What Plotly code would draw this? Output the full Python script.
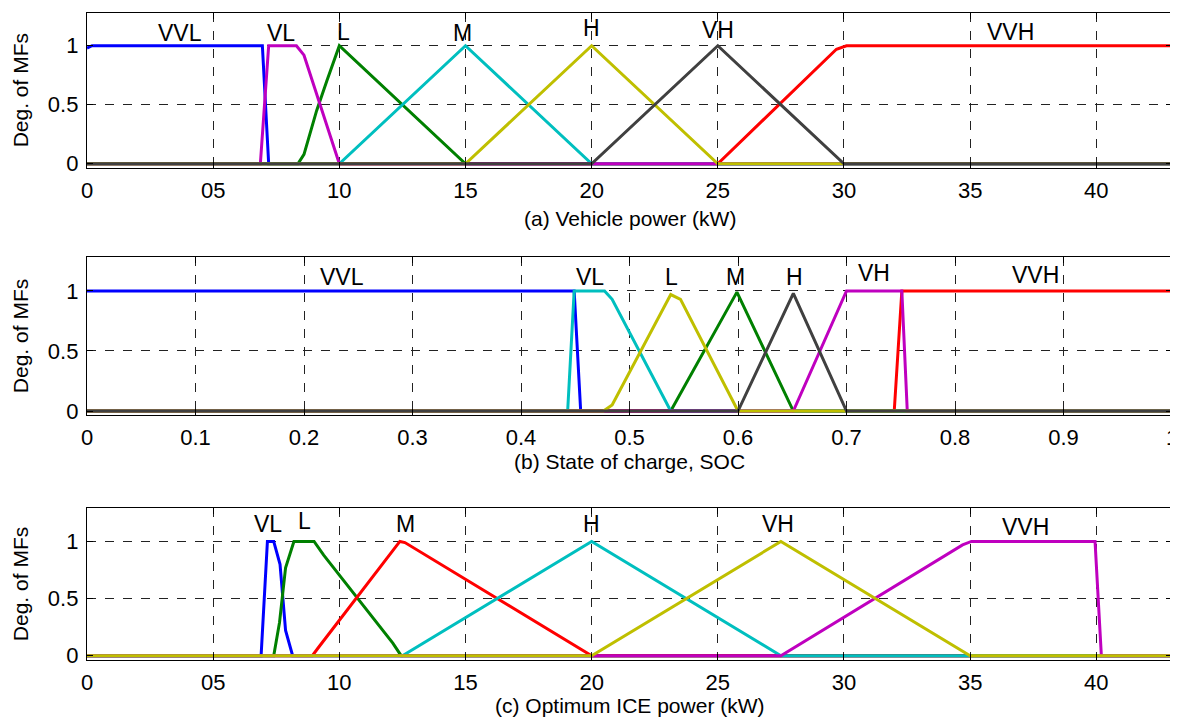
import plotly.graph_objects as go

# ---------------- data ----------------
# MATLAB default colour order
C_BLUE = "#0000FF"; C_GREEN = "#008000"; C_RED = "#FF0000"; C_CYAN = "#00BFBF"
C_MAG = "#BF00BF"; C_YEL = "#BFBF00"; C_GRAY = "#404040"

# (a) Vehicle power (kW)
a_VVL_x = [0, 0.2, 6.95, 7.2, 43];                 a_VVL_y = [0.98, 1, 1, 0, 0]
a_L_x = [0, 8.36, 8.6, 9.1, 9.5, 10.0, 15, 43];    a_L_y = [0, 0, 0.08, 0.45, 0.7, 1, 0, 0]
a_VVH_x = [0, 25, 29.7, 30.1, 43];                 a_VVH_y = [0, 0, 0.97, 1, 1]
a_M_x = [0, 10, 15, 20, 43];                       a_M_y = [0, 0, 1, 0, 0]
a_VL_x = [0, 6.87, 7.2, 8.3, 8.6, 9.9, 10.0, 43];  a_VL_y = [0, 0, 1, 1, 0.92, 0.05, 0, 0]
a_H_x = [0, 15, 20, 25, 43];                       a_H_y = [0, 0, 1, 0, 0]
a_VH_x = [0, 20, 25, 30, 43];                      a_VH_y = [0, 0, 1, 0, 0]

# (b) State of charge, SOC
b_VVL_x = [0, 0.449, 0.455, 1];                    b_VVL_y = [1, 1, 0, 0]
b_M_x = [0, 0.538, 0.599, 0.651, 1];               b_M_y = [0, 0, 0.99, 0, 0]
b_VVH_x = [0, 0.744, 0.751, 1];                    b_VVH_y = [0, 0, 1, 1]
b_VL_x = [0, 0.443, 0.449, 0.477, 0.484, 0.538, 1]; b_VL_y = [0, 0, 1, 1, 0.93, 0, 0]
b_VH_x = [0, 0.651, 0.700, 0.751, 0.756, 1];       b_VH_y = [0, 0, 1, 1, 0, 0]
b_L_x = [0, 0.476, 0.484, 0.538, 0.547, 0.6, 1];   b_L_y = [0, 0, 0.05, 0.97, 0.93, 0, 0]
b_H_x = [0, 0.6, 0.651, 0.7, 1];                   b_H_y = [0, 0, 0.98, 0, 0]

# (c) Optimum ICE power (kW)
c_VL_x = [0, 6.9, 7.15, 7.4, 7.65, 7.87, 8.15, 43]; c_VL_y = [0, 0, 1, 1, 0.8, 0.22, 0, 0]
c_L_x = [0, 7.4, 7.63, 7.87, 8.2, 9.0, 9.38, 12.12, 12.45, 43]
c_L_y = [0, 0, 0.29, 0.77, 1, 1, 0.88, 0.11, 0, 0]
c_M_x = [0, 8.93, 9.15, 12.4, 12.6, 20, 43];       c_M_y = [0, 0, 0.065, 1, 0.99, 0, 0]
c_H_x = [0, 12.5, 20, 27.5, 43];                   c_H_y = [0, 0, 1, 0, 0]
c_VVH_x = [0, 27.5, 34.7, 35.05, 39.95, 40.2, 43]; c_VVH_y = [0, 0, 0.97, 1, 1, 0, 0]
c_VH_x = [0, 20, 27.5, 35, 43];                    c_VH_y = [0, 0, 1, 0, 0]

# MF label names and positions
a_lab = ["VVL", "VL", "L", "M", "H", "VH", "VVH"]
a_lab_x = [3.7, 7.7, 10.15, 14.9, 20.0, 25.0, 36.6]
a_lab_y = [1.11, 1.11, 1.12, 1.11, 1.15, 1.13, 1.12]
b_lab = ["VVL", "VL", "L", "M", "H", "VH", "VVH"]
b_lab_x = [0.235, 0.464, 0.539, 0.598, 0.652, 0.725, 0.874]
b_lab_y = [1.12, 1.12, 1.12, 1.12, 1.12, 1.15, 1.13]
c_lab = ["VL", "L", "M", "H", "VH", "VVH"]
c_lab_x = [7.18, 8.6, 12.64, 20.0, 27.4, 37.2]
c_lab_y = [1.15, 1.18, 1.15, 1.15, 1.15, 1.13]

pow_ticks = [0, 5, 10, 15, 20, 25, 30, 35, 40]
pow_ticktext = ["0", "05", "10", "15", "20", "25", "30", "35", "40"]
soc_ticks = [0, 0.1, 0.2, 0.3, 0.4, 0.5, 0.6, 0.7, 0.8, 0.9, 1]
soc_ticktext = ["0", "0.1", "0.2", "0.3", "0.4", "0.5", "0.6", "0.7", "0.8", "0.9", "1"]
y_ticks = [0, 0.5, 1]
y_ticktext = ["0", "0.5", "1"]

titles = ["(a) Vehicle power (kW)", "(b) State of charge, SOC", "(c) Optimum ICE power (kW)"]
ylabel = "Deg. of MFs"

# ---------------- figure ----------------
W, H = 1178, 724
OFF = 8  # page body margin: shift layout so it lands where the reference has it
FONT = "Liberation Sans, Arial, Helvetica, sans-serif"
LW = 3

panels = [
    ("x", "y", [(a_VVL_x, a_VVL_y, C_BLUE), (a_L_x, a_L_y, C_GREEN), (a_VVH_x, a_VVH_y, C_RED),
                (a_M_x, a_M_y, C_CYAN), (a_VL_x, a_VL_y, C_MAG), (a_H_x, a_H_y, C_YEL),
                (a_VH_x, a_VH_y, C_GRAY)]),
    ("x2", "y2", [(b_VVL_x, b_VVL_y, C_BLUE), (b_M_x, b_M_y, C_GREEN), (b_VVH_x, b_VVH_y, C_RED),
                  (b_VL_x, b_VL_y, C_CYAN), (b_VH_x, b_VH_y, C_MAG), (b_L_x, b_L_y, C_YEL),
                  (b_H_x, b_H_y, C_GRAY)]),
    ("x3", "y3", [(c_VL_x, c_VL_y, C_BLUE), (c_L_x, c_L_y, C_GREEN), (c_M_x, c_M_y, C_RED),
                  (c_H_x, c_H_y, C_CYAN), (c_VVH_x, c_VVH_y, C_MAG), (c_VH_x, c_VH_y, C_YEL)]),
]

fig = go.Figure()
for xa, ya, curves in panels:
    for xs, ys, col in curves:
        fig.add_trace(go.Scatter(x=xs, y=ys, xaxis=xa, yaxis=ya, mode="lines",
                                 line=dict(color=col, width=LW), showlegend=False,
                                 hoverinfo="skip"))

def px_x(x):
    return (x - OFF) / W

def px_y(y):
    return 1 - (y - OFF) / H

xdom = [px_x(87), px_x(1172)]
ydoms = [[px_y(168), px_y(12.7)], [px_y(415), px_y(257.3)], [px_y(660), px_y(508.3)]]

axis_common = dict(showline=True, linecolor="black", linewidth=1.3, mirror="ticks",
                   ticks="inside", ticklen=6, tickcolor="black", tickwidth=1,
                   showgrid=True, gridcolor="#222222", griddash="dash", gridwidth=1,
                   zeroline=False, automargin=False,
                   tickfont=dict(family=FONT, size=22, color="black"))

xr = [[0, 43], [0, 1], [0, 43]]
xtv = [(pow_ticks, pow_ticktext), (soc_ticks, soc_ticktext), (pow_ticks, pow_ticktext)]
yr = [[-0.036, 1.28], [-0.033, 1.28], [-0.038, 1.29]]
for i in range(3):
    sfx = "" if i == 0 else str(i + 1)
    fig.layout["xaxis" + sfx] = dict(axis_common, domain=xdom, range=xr[i],
                                     tickvals=xtv[i][0], ticktext=xtv[i][1],
                                     anchor="y" + sfx, ticklabelstandoff=2)
    fig.layout["yaxis" + sfx] = dict(axis_common, domain=ydoms[i], range=yr[i],
                                     tickvals=y_ticks, ticktext=y_ticktext,
                                     anchor="x" + sfx, ticklabelstandoff=3)

ann = []
labsets = [(a_lab, a_lab_x, a_lab_y), (b_lab, b_lab_x, b_lab_y), (c_lab, c_lab_x, c_lab_y)]
for i, (labs, lx, ly) in enumerate(labsets):
    sfx = "" if i == 0 else str(i + 1)
    for t, x, y in zip(labs, lx, ly):
        ann.append(dict(text=t, x=x, y=y, xref="x" + sfx, yref="y" + sfx, showarrow=False,
                        xanchor="center", yanchor="middle",
                        font=dict(family=FONT, size=23, color="black")))

title_y = [219, 461.7, 705]
for i in range(3):
    ann.append(dict(text=titles[i], x=px_x((87 + 1172) / 2), y=px_y(title_y[i]),
                    xref="paper", yref="paper", showarrow=False, xanchor="center",
                    yanchor="middle", font=dict(family=FONT, size=21, color="black")))
    yc = (ydoms[i][0] + ydoms[i][1]) / 2
    ann.append(dict(text=ylabel, x=px_x(20), y=yc, xref="paper", yref="paper",
                    showarrow=False, textangle=-90, xanchor="center", yanchor="middle",
                    font=dict(family=FONT, size=21, color="black")))

fig.update_layout(width=W, height=H, margin=dict(l=0, r=0, t=0, b=0, autoexpand=False),
                  paper_bgcolor="white", plot_bgcolor="white", annotations=ann,
                  font=dict(family=FONT, color="black"))

fig.write_html("out.html")
